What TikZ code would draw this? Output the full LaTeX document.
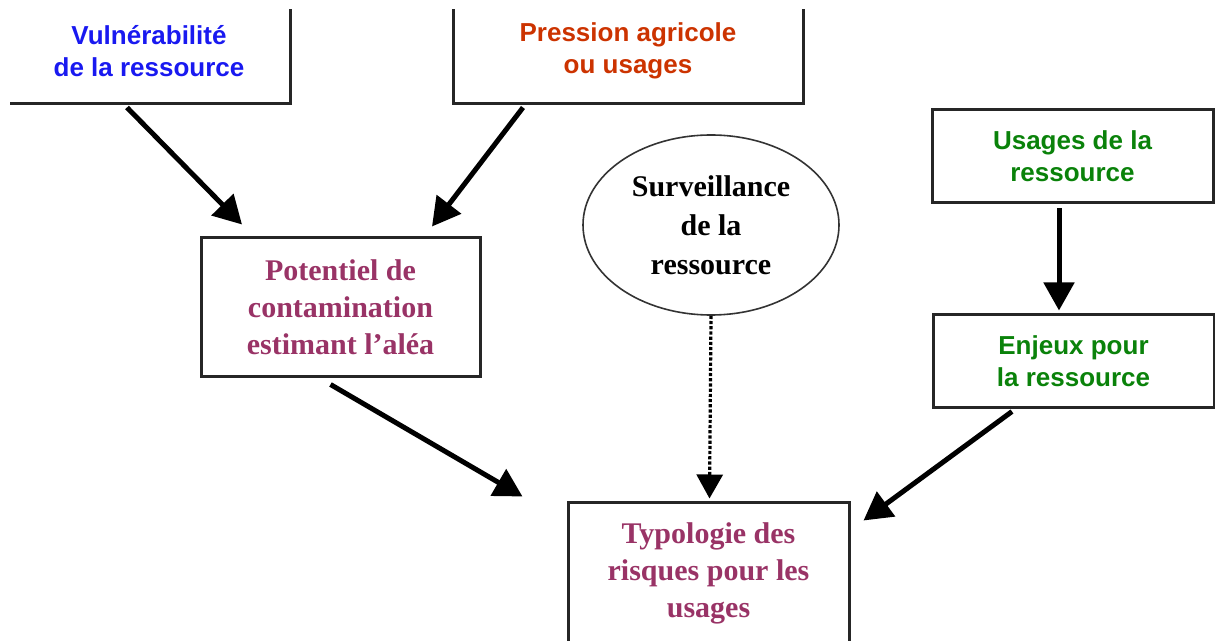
\documentclass[tikz,border=0pt]{standalone}
\usepackage{fontspec}
\setmainfont{Liberation Serif}
\setsansfont{Liberation Sans}
\usepackage{tikz}
\usetikzlibrary{arrows.meta,calc,shapes.geometric}
\definecolor{vulblue}{RGB}{25,25,240}
\definecolor{presred}{RGB}{204,51,0}
\definecolor{usegreen}{RGB}{10,130,10}
\definecolor{riskplum}{RGB}{153,51,102}

\begin{document}
\begin{tikzpicture}[x=0.5pt,y=-0.5pt,->,>={Triangle[length=14pt,width=15pt]},
      line width=2.5pt,
      box/.style={rectangle,draw=black!85,line width=1.5pt,inner sep=0pt,align=center},
      sbox/.style={box,font=\sffamily\bfseries\fontsize{13}{16}\selectfont},
      rbox/.style={box,text=riskplum,font=\bfseries\fontsize{15}{18.5}\selectfont},
      bubble/.style={ellipse,draw=black!80,line width=0.8pt,inner sep=0pt,align=center,
        font=\bfseries\fontsize{15}{19.5}\selectfont}]
      \useasboundingbox (0,0) rectangle (1215,641);
      \clip (10,10) rectangle (1215,641);

      \node[sbox,text=vulblue,minimum width=141pt,minimum height=53pt] (vul) at (149,51)
        { Vulnérabilité\\de la ressource };
      \node[sbox,text=presred,minimum width=175pt,minimum height=53pt] (pres) at (628,51)
        { Pression agricole\\ou usages };
      \node[sbox,text=usegreen,minimum width=140.5pt,minimum height=46.5pt] (usa) at (1072.5,156.5)
        { Usages de la\\ressource };
      \node[sbox,text=usegreen,minimum width=140.5pt,minimum height=46.5pt] (enj) at (1073.5,361.5)
        { Enjeux pour\\la ressource };
      \node[rbox,minimum width=139.5pt,minimum height=69.5pt] (pot) at (340.5,307.5)
        { Potentiel de\\contamination\\estimant l'aléa };
      \node[rbox,minimum width=140.5pt,minimum height=71.5pt] (typ) at (708.5,573.5)
        { Typologie des\\risques pour les\\usages };
      \node[bubble,minimum width=128pt,minimum height=90pt] (sur) at (711,225)
        { Surveillance\\de la\\ressource };

      \path
      ($(vul.south)+(-22,2)$) edge ($(pot.north)+(-98.5,-12)$)
      ($(pres.south)+(-105,2)$) edge ($(pot.north)+(91.5,-10)$)
      ($(pot.south)+(-10,6)$) edge ($(typ.north)+(-186,-4)$)
      (sur.south) edge [densely dotted,line width=1.6pt,>={Triangle[length=12pt,width=13pt]}]
        ($(typ.north)+(1,-2)$)
      ($(usa.south)+(-13.5,4)$) edge ($(enj.north)+(-14.5,-3)$)
      ($(enj.south)+(-61.5,2)$) edge ($(typ.north east)+(13,20)$)
      ;
\end{tikzpicture}
\end{document}
